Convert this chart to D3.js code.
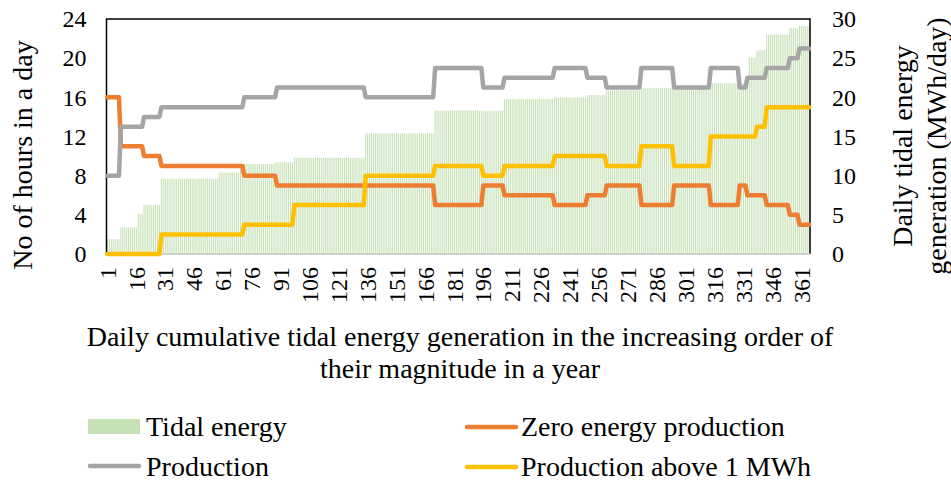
<!DOCTYPE html>
<html>
<head>
<meta charset="utf-8">
<script src="https://cdn.jsdelivr.net/npm/d3@7"></script>
<style>
  html, body { margin: 0; padding: 0; background: #fff; }
  svg { display: block; font-family: "Liberation Serif", "Times New Roman", serif; }
</style>
</head>
<body>
<svg id="chart" width="951" height="483"></svg>
<script>
// Days of the year, ranked by cumulative tidal energy generation
const dayCount = 365;
const tickDays = [1, 16, 31, 46, 61, 76, 91, 106, 121, 136, 151, 166, 181, 196,
                  211, 226, 241, 256, 271, 286, 301, 316, 331, 346, 361];
const hourTicks = [0, 4, 8, 12, 16, 20, 24];
const energyTicks = [0, 5, 10, 15, 20, 25, 30];

// Each entry: [value, number of consecutive ranked days holding it]
const tidalEnergySteps = [
  [1.9, 7], [3.4, 9], [5.1, 3], [6.25, 9], [9.6, 30], [10.4, 11], [11.5, 18],
  [11.7, 10], [12.3, 37], [15.4, 36], [18.3, 36], [19.8, 26], [20.0, 17],
  [20.3, 10], [20.9, 18], [21.2, 36], [21.8, 20], [25.1, 4], [26.0, 5],
  [28.0, 12], [28.8, 5], [29.1, 6]
];
const zeroProductionSteps = [
  [16, 7], [11, 12], [10, 9], [9, 43], [8, 17], [7, 82], [5, 25], [7, 11],
  [6, 26], [5, 17], [6, 10], [7, 18], [5, 17], [7, 19], [5, 15], [7, 4],
  [6, 10], [5, 12], [4, 5], [3, 6]
];
const productionSteps = [
  [8, 7], [13, 12], [14, 9], [15, 43], [16, 17], [17, 46], [16, 36], [19, 25],
  [17, 11], [18, 26], [19, 17], [18, 10], [17, 18], [19, 17], [17, 19],
  [19, 15], [17, 4], [18, 10], [19, 12], [20, 5], [21, 6]
];
const aboveOneMWhSteps = [
  [0, 28], [2, 43], [3, 26], [5, 37], [8, 36], [9, 25], [8, 11], [9, 26],
  [10, 27], [9, 18], [11, 17], [9, 19], [12, 24], [13, 5], [15, 23]
];

const seriesColors = {
  tidal: "#c5e0b4",
  zero: "#ed7d31",
  production: "#a5a5a5",
  above: "#ffc000"
};

function expandSteps(steps) {
  return steps.flatMap(([value, days]) => Array.from({ length: days }, () => value));
}

const days = d3.range(1, dayCount + 1);
const tidalEnergy = expandSteps(tidalEnergySteps);
const zeroProduction = expandSteps(zeroProductionSteps);
const production = expandSteps(productionSteps);
const aboveOneMWh = expandSteps(aboveOneMWhSteps);

const plot = { left: 106.5, right: 810, top: 19, bottom: 254 };

const svg = d3.select("#chart");

const x = d3.scaleBand()
  .domain(days)
  .range([plot.left, plot.right])
  .paddingInner(0.45)
  .paddingOuter(0.2);

const yHours = d3.scaleLinear().domain([0, 24]).range([plot.bottom, plot.top]);
const yEnergy = d3.scaleLinear().domain([0, 30]).range([plot.bottom, plot.top]);

const cx = d => x(d) + x.bandwidth() / 2;

// Tidal energy bars (right axis)
svg.append("g")
  .selectAll("rect")
  .data(days)
  .join("rect")
  .attr("x", d => x(d))
  .attr("width", x.bandwidth())
  .attr("y", (d, i) => yEnergy(tidalEnergy[i]))
  .attr("height", (d, i) => yEnergy(0) - yEnergy(tidalEnergy[i]))
  .attr("fill", seriesColors.tidal);

// Plot frame
svg.append("path")
  .attr("d", `M${plot.left},${plot.bottom}V${plot.top}H${plot.right}V${plot.bottom}`)
  .attr("fill", "none")
  .attr("stroke", "#000")
  .attr("stroke-width", 1.5);

svg.append("line")
  .attr("x1", plot.left).attr("x2", plot.right)
  .attr("y1", plot.bottom).attr("y2", plot.bottom)
  .attr("stroke", "#d0d0d0")
  .attr("stroke-width", 2);

// Hour series (left axis)
const hourLine = values => d3.line()
  .x(d => cx(d))
  .y((d, i) => yHours(values[i]))(days);

[
  [zeroProduction, seriesColors.zero],
  [production, seriesColors.production],
  [aboveOneMWh, seriesColors.above]
].forEach(([values, color]) => {
  svg.append("path")
    .attr("d", hourLine(values))
    .attr("fill", "none")
    .attr("stroke", color)
    .attr("stroke-width", 4.5)
    .attr("stroke-linejoin", "round")
    .attr("stroke-linecap", "round");
});

// Axes
const tickFont = 24;

const leftAxis = svg.append("g")
  .attr("transform", `translate(${plot.left},0)`)
  .call(d3.axisLeft(yHours).tickValues(hourTicks).tickSize(0).tickPadding(20));
const rightAxis = svg.append("g")
  .attr("transform", `translate(${plot.right},0)`)
  .call(d3.axisRight(yEnergy).tickValues(energyTicks).tickSize(0).tickPadding(22));
const bottomAxis = svg.append("g")
  .attr("transform", `translate(0,${plot.bottom})`)
  .call(d3.axisBottom(x).tickValues(tickDays).tickSize(0));

[leftAxis, rightAxis, bottomAxis].forEach(g => {
  g.select(".domain").remove();
  g.attr("font-family", null).attr("font-size", null);
  g.selectAll("text")
    .attr("fill", "#000")
    .style("font-size", tickFont + "px");
});

bottomAxis.selectAll("text")
  .attr("transform", "rotate(-90)")
  .attr("text-anchor", "end")
  .attr("x", -13)
  .attr("y", 0)
  .attr("dy", "0.34em");

// Titles
const titleFont = 28;
const addText = (txt, tx, ty, rotate, anchor = "middle") => svg.append("text")
  .attr("transform", `translate(${tx},${ty})` + (rotate ? " rotate(-90)" : ""))
  .attr("text-anchor", anchor)
  .style("font-size", titleFont + "px")
  .attr("fill", "#000")
  .text(txt);

addText("No of hours in a day", 32, 155, true);
addText("Daily tidal energy", 912, 146, true);
addText("generation (MWh/day)", 946, 146, true);
addText("Daily cumulative tidal energy generation in the increasing order of", 460, 346, false);
addText("their magnitude in a year", 460, 378, false);

// Legend
const legend = svg.append("g");
legend.append("rect")
  .attr("x", 88).attr("y", 419).attr("width", 52).attr("height", 15)
  .attr("fill", seriesColors.tidal);

[
  [88, 466, seriesColors.production],
  [465, 427, seriesColors.zero],
  [465, 467, seriesColors.above]
].forEach(([lx, ly, color]) => {
  legend.append("line")
    .attr("x1", lx + 2).attr("x2", lx + 51)
    .attr("y1", ly).attr("y2", ly)
    .attr("stroke", color)
    .attr("stroke-width", 4.5)
    .attr("stroke-linecap", "round");
});

addText("Tidal energy", 146, 436, false, "start");
addText("Production", 146, 476, false, "start");
addText("Zero energy production", 521, 436, false, "start");
addText("Production above 1 MWh", 521, 476, false, "start");
</script>
</body>
</html>
